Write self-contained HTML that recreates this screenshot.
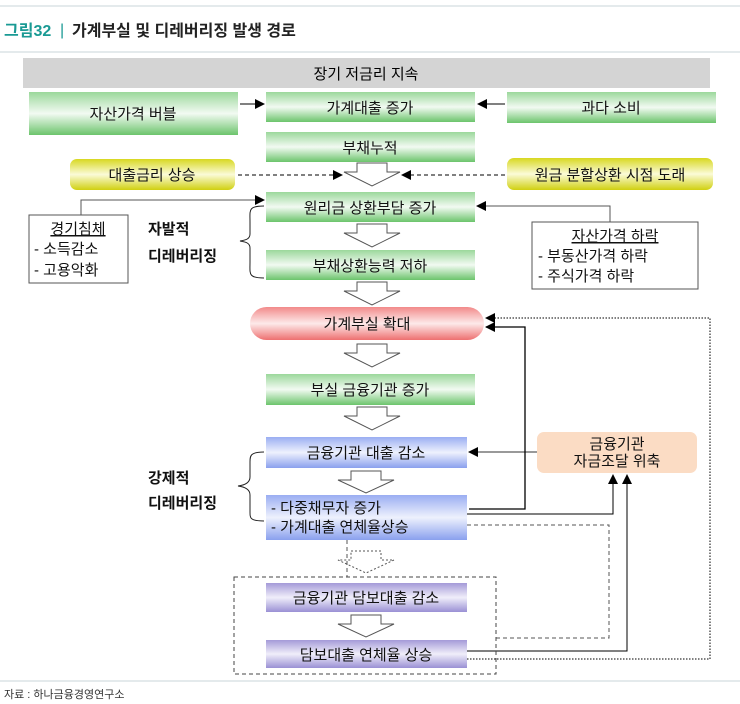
<!DOCTYPE html>
<html><head><meta charset="utf-8"><style>
body{margin:0;background:#fff;}
svg{display:block;font-family:"Liberation Sans","Noto Sans CJK KR",sans-serif;}
</style></head><body>
<svg width="740" height="704" viewBox="0 0 740 704" xmlns="http://www.w3.org/2000/svg">
<defs>
<linearGradient id="g" x1="0" y1="0" x2="0" y2="1"><stop offset="0" stop-color="#9bd89b"/><stop offset="0.5" stop-color="#f2faf2"/><stop offset="1" stop-color="#6cc46c"/></linearGradient>
<linearGradient id="y" x1="0" y1="0" x2="0" y2="1"><stop offset="0" stop-color="#d8d820"/><stop offset="0.5" stop-color="#fbfbd8"/><stop offset="1" stop-color="#d0d010"/></linearGradient>
<linearGradient id="r" x1="0" y1="0" x2="0" y2="1"><stop offset="0" stop-color="#f28a8a"/><stop offset="0.5" stop-color="#fdeaea"/><stop offset="1" stop-color="#ee7070"/></linearGradient>
<linearGradient id="b" x1="0" y1="0" x2="0" y2="1"><stop offset="0" stop-color="#9aaef2"/><stop offset="0.5" stop-color="#eef1fd"/><stop offset="1" stop-color="#8aa0ee"/></linearGradient>
<linearGradient id="p" x1="0" y1="0" x2="0" y2="1"><stop offset="0" stop-color="#a49ad8"/><stop offset="0.5" stop-color="#f0eefa"/><stop offset="1" stop-color="#9a90d4"/></linearGradient>
<marker id="a" markerWidth="10" markerHeight="10" refX="9" refY="5" orient="auto" markerUnits="userSpaceOnUse"><path d="M0,0 L10,5 L0,10 Z" fill="#000"/></marker>
</defs>
<line x1="0" y1="6" x2="740" y2="6" stroke="#c8d4d8"/>
<line x1="0" y1="52" x2="740" y2="52" stroke="#c8d4d8"/>
<text x="4" y="36" font-size="16" font-weight="bold" fill="#1a9a94">그림32</text>
<text x="60" y="35" font-size="16" fill="#1a9a94">|</text>
<text x="72" y="36" font-size="16" font-weight="bold" fill="#222">가계부실 및 디레버리징 발생 경로</text>

<rect x="23" y="58" width="687" height="30" fill="#d4d4d4"/>
<text x="366" y="79" font-size="15" text-anchor="middle">장기 저금리 지속</text>

<g font-size="15" text-anchor="middle" fill="#111">
<rect x="29" y="92" width="209" height="43" fill="url(#g)"/><text x="133" y="119">자산가격 버블</text>
<rect x="266" y="92" width="209" height="30" fill="url(#g)"/><text x="370" y="113">가계대출 증가</text>
<rect x="507" y="92" width="209" height="31" fill="url(#g)"/><text x="611" y="113">과다 소비</text>
<rect x="266" y="132" width="209" height="30" fill="url(#g)"/><text x="370" y="153">부채누적</text>
<rect x="70" y="159" width="165" height="31" rx="7" fill="url(#y)"/><text x="152" y="180">대출금리 상승</text>
<rect x="507" y="158" width="206" height="32" rx="7" fill="url(#y)"/><text x="610" y="180">원금 분할상환 시점 도래</text>
<rect x="266" y="192" width="209" height="30" fill="url(#g)"/><text x="370" y="213">원리금 상환부담 증가</text>
<rect x="266" y="250" width="209" height="30" fill="url(#g)"/><text x="370" y="271">부채상환능력 저하</text>
<rect x="250" y="307" width="234" height="33" rx="16.5" fill="url(#r)"/><text x="367" y="329">가계부실 확대</text>
<rect x="266" y="374" width="209" height="31" fill="url(#g)"/><text x="370" y="395">부실 금융기관 증가</text>
<rect x="266" y="437" width="201" height="31" fill="url(#b)"/><text x="366" y="458">금융기관 대출 감소</text>
<rect x="266" y="495" width="201" height="45" fill="url(#b)"/>
<rect x="266" y="583" width="201" height="29" fill="url(#p)"/><text x="366" y="603">금융기관 담보대출 감소</text>
<rect x="266" y="640" width="201" height="28" fill="url(#p)"/><text x="366" y="660">담보대출 연체율 상승</text>
<rect x="537" y="432" width="160" height="41" rx="7" fill="#fbdcc4"/>
<text x="617" y="449">금융기관</text><text x="617" y="466">자금조달 위축</text>
</g>
<g font-size="15" fill="#111">
<text x="271" y="513">- 다중채무자 증가</text>
<text x="271" y="532">- 가계대출 연체율상승</text>
</g>

<g fill="#fff" stroke="#555" stroke-width="1">
<path d="M357,163 L387,163 L387,172 L400,172 L372,186 L344,172 L357,172 Z"/>
<path d="M357,224 L387,224 L387,233 L400,233 L372,247 L344,233 L357,233 Z"/>
<path d="M357,282 L387,282 L387,291 L400,291 L372,305 L344,291 L357,291 Z"/>
<path d="M357,344 L387,344 L387,353 L400,353 L372,367 L344,353 L357,353 Z"/>
<path d="M357,407 L387,407 L387,416 L400,416 L372,430 L344,416 L357,416 Z"/>
<path d="M351,471 L381,471 L381,480 L394,480 L366,493 L338,480 L351,480 Z"/>
<path d="M351,615 L381,615 L381,624 L394,624 L366,637 L338,624 L351,624 Z"/>
<path d="M351,551 L381,551 L381,560 L394,560 L366,573 L338,560 L351,560 Z" stroke-dasharray="2,2"/>
</g>

<g fill="none" stroke="#000" stroke-width="1">
<line x1="240" y1="104" x2="264" y2="104" marker-end="url(#a)"/>
<line x1="505" y1="104" x2="478" y2="104" marker-end="url(#a)"/>
<line x1="238" y1="175" x2="342" y2="175" stroke-dasharray="4,3" marker-end="url(#a)"/>
<line x1="505" y1="175" x2="402" y2="175" stroke-dasharray="4,3" marker-end="url(#a)"/>
<polyline points="81,215 81,200 264,200" stroke="#555" marker-end="url(#a)"/>
<polyline points="610,222 610,206 477,206" stroke="#555" marker-end="url(#a)"/>
<line x1="537" y1="452" x2="469" y2="452" stroke="#333" marker-end="url(#a)"/>
<polyline points="469,509 525,509 525,327 486,327" stroke-width="1.3" marker-end="url(#a)"/>
<polyline points="467,514 613,514 613,475" marker-end="url(#a)"/>
<polyline points="467,651 627,651 627,475" marker-end="url(#a)"/>
<polyline points="467,525 609,525 609,638 496,638" stroke="#555" stroke-dasharray="4,3"/>
<polyline points="467,659 710,659 710,318 486,318" stroke-dasharray="1.5,1.5" marker-end="url(#a)"/>
<line x1="347" y1="540" x2="347" y2="577" stroke="#555" stroke-dasharray="4,3"/>
<rect x="234" y="577" width="262" height="97" stroke="#444" stroke-dasharray="4,3"/>
<rect x="29" y="215" width="99" height="68" stroke="#555"/>
<rect x="532" y="222" width="166" height="67" stroke="#555"/>
<path d="M264,206 C248,206 250,210 250,222 L250,234 C250,239 246,240 240,241 C246,242 250,243 250,248 L250,262 C250,274 248,278 264,278" stroke="#222"/>
<path d="M264,452 C250,452 250,456 250,462 L250,477 C250,482 246,485 238,486 C246,487 250,490 250,495 L250,512 C250,518 250,521 264,521" stroke="#222"/>
</g>

<g font-size="15" fill="#111">
<text x="78" y="234" text-anchor="middle" text-decoration="underline">경기침체</text>
<text x="34" y="254">-  소득감소</text>
<text x="34" y="275">-  고용악화</text>
<text x="615" y="241" text-anchor="middle" text-decoration="underline">자산가격 하락</text>
<text x="538" y="261">-  부동산가격 하락</text>
<text x="538" y="281">-  주식가격 하락</text>
<text x="148" y="234" font-weight="bold">자발적</text>
<text x="148" y="261" font-weight="bold">디레버리징</text>
<text x="148" y="483" font-weight="bold">강제적</text>
<text x="148" y="508" font-weight="bold">디레버리징</text>
</g>

<line x1="0" y1="681" x2="740" y2="681" stroke="#c8d4d8"/>
<text x="4" y="698" font-size="11" fill="#333">자료 : 하나금융경영연구소</text>
</svg>
</body></html>
